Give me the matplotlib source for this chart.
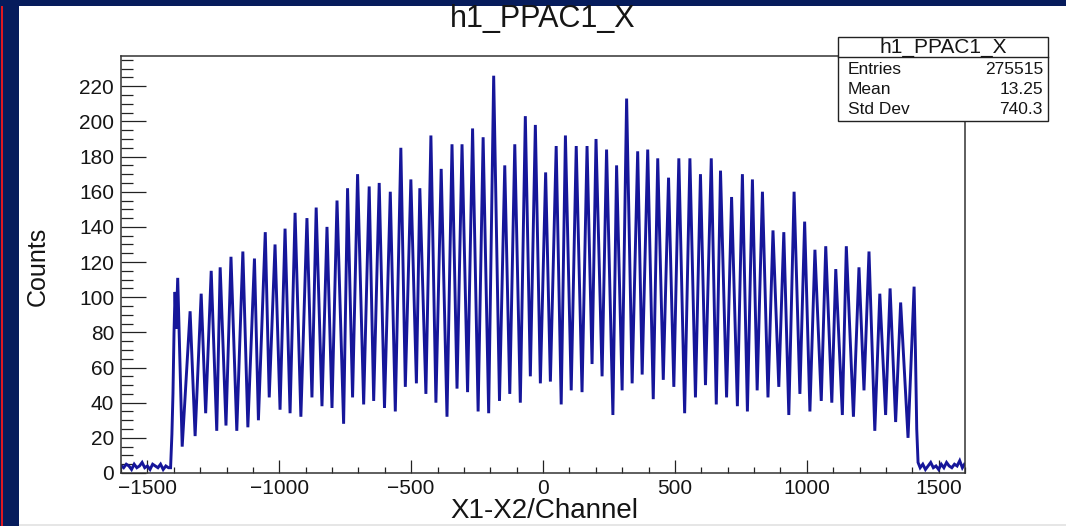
import numpy as np
import matplotlib
matplotlib.use("Agg")
import matplotlib.pyplot as plt
from matplotlib.patches import Rectangle
from matplotlib.ticker import MultipleLocator, FuncFormatter
from matplotlib.lines import Line2D

# ---- histogram h1_PPAC1_X : X1-X2 (channel) ----
# flat background outside the detector window
base_left_x = [-1598, -1590, -1580, -1570, -1560, -1550, -1540, -1530, -1520, -1510,
               -1500, -1490, -1480, -1470, -1460, -1450, -1440, -1430, -1420, -1412]
base_left_y = [4, 3, 5, 4, 2, 5, 3, 4, 6, 3, 4, 2, 5, 4, 3, 5, 2, 4, 3, 3]

# rising edge at the low end of the window
edge_low_x = [-1407, -1403, -1399, -1395, -1391]
edge_low_y = [22, 45, 80, 103, 82]

# peak tops (one per anode wire)
peak_x = [-1385, -1338, -1296, -1258, -1224, -1183, -1138, -1094, -1053, -1016,
          -978, -940, -895, -860, -819, -781, -741, -703, -659, -621,
          -579, -539, -501, -467, -425, -386, -345, -307, -267, -227,
          -187, -145, -107, -67, -29, 10, 50, 85, 126, 167,
          201, 241, 279, 317, 359, 397, 435, 476, 515, 557,
          597, 638, 673, 715, 756, 794, 832, 872, 913, 952,
          992, 1031, 1072, 1110, 1150, 1198, 1236, 1277, 1316, 1356,
          1407]
peak_y = [111, 92, 102, 115, 117, 123, 126, 122, 137, 130,
          139, 148, 145, 151, 140, 155, 162, 170, 163, 165,
          160, 185, 167, 162, 192, 173, 187, 187, 196, 191,
          226, 175, 187, 203, 198, 171, 186, 192, 186, 186,
          190, 184, 175, 213, 183, 184, 179, 168, 179, 179,
          170, 179, 172, 157, 170, 167, 160, 138, 137, 160,
          143, 127, 129, 116, 129, 117, 126, 102, 105, 97,
          106]

# valleys between neighbouring wires
valley_x = [-1368, -1319, -1279, -1237, -1202, -1161, -1119, -1079, -1038, -997,
            -959, -918, -876, -838, -800, -756, -722, -680, -642, -601,
            -560, -522, -480, -444, -406, -364, -326, -286, -246, -206,
            -165, -126, -86, -48, -10, 28, 69, 107, 148, 186,
            224, 265, 300, 338, 376, 418, 456, 496, 537, 578,
            616, 657, 696, 737, 775, 812, 853, 894, 932, 974,
            1012, 1055, 1095, 1135, 1177, 1217, 1258, 1299, 1337, 1384]
valley_y = [15, 21, 34, 24, 27, 24, 26, 30, 43, 36,
            34, 32, 43, 38, 37, 28, 43, 39, 41, 37,
            35, 49, 51, 45, 40, 32, 48, 46, 35, 34,
            41, 45, 40, 55, 51, 52, 39, 47, 46, 62,
            55, 33, 47, 51, 56, 42, 53, 49, 34, 43,
            50, 39, 43, 38, 35, 47, 43, 49, 33, 45,
            35, 41, 40, 33, 32, 47, 24, 33, 29, 20]

# falling edge at the high end of the window
edge_high_x = [1412, 1417, 1422]
edge_high_y = [70, 25, 6]

base_right_x = [1430, 1440, 1450, 1460, 1470, 1480, 1490, 1500, 1510, 1520,
                1530, 1540, 1550, 1560, 1570, 1580, 1590, 1598]
base_right_y = [3, 5, 2, 4, 6, 3, 4, 2, 5, 3, 6, 4, 3, 5, 4, 7, 3, 5]

stats_name = "h1_PPAC1_X"
stats_rows = [("Entries", "275515"), ("Mean", "13.25"), ("Std Dev", "740.3")]

W, H = 1066, 526
NAVY = "#061c5c"
LINE = "#16169a"
INK = "#151515"

plt.rcParams["font.family"] = ["Liberation Sans", "DejaVu Sans"]

fig = plt.figure(figsize=(W / 100, H / 100), dpi=100)
fig.patch.set_facecolor("white")

# slide frame around the canvas
fig.patches.append(Rectangle((0, 1 - 6 / H), 1, 6 / H, transform=fig.transFigure,
                             facecolor=NAVY, edgecolor="none", zorder=0))
fig.patches.append(Rectangle((0, 0), 19 / W, 1, transform=fig.transFigure,
                             facecolor=NAVY, edgecolor="none", zorder=0))
fig.patches.append(Rectangle((1 / W, 0), 2 / W, 1 - 6 / H, transform=fig.transFigure,
                             facecolor="#e01820", edgecolor="none", zorder=1))
fig.patches.append(Rectangle((19 / W, 0), 1 - 19 / W, 2 / H, transform=fig.transFigure,
                             facecolor="#e6e6e6", edgecolor="none", zorder=0))

ax = fig.add_axes([121 / W, 1 - 473 / H, (965 - 121) / W, (473 - 55.5) / H])

x = np.array(base_left_x + edge_low_x + peak_x + valley_x + edge_high_x + base_right_x, float)
y = np.array(base_left_y + edge_low_y + peak_y + valley_y + edge_high_y + base_right_y, float)
order = np.argsort(x, kind="stable")
ax.plot(x[order], y[order], color=LINE, lw=2.1, solid_joinstyle="miter")

ax.set_xlim(-1600, 1600)
ax.set_ylim(0, 237.5)

ax.xaxis.set_major_locator(MultipleLocator(500))
ax.xaxis.set_minor_locator(MultipleLocator(100))
ax.yaxis.set_major_locator(MultipleLocator(20))
ax.yaxis.set_minor_locator(MultipleLocator(5))

ax.tick_params(axis="both", which="both", direction="in", width=0.9, color="#222222",
               labelsize=15, labelcolor=INK)
ax.tick_params(axis="y", which="major", length=18, pad=5)
ax.tick_params(axis="y", which="minor", length=8.5)
ax.tick_params(axis="x", which="major", length=9.5, pad=4)
ax.tick_params(axis="x", which="minor", length=4.5)
for s in ax.spines.values():
    s.set_linewidth(1.1)
    s.set_color("#333333")
ax.xaxis.set_major_formatter(FuncFormatter(lambda v, p: f"{int(v)}".replace("-", "\u2212")))

fig.text(543 / W, 1 - 19 / H, stats_name, ha="center", va="center", fontsize=22, color=INK)
fig.text(544 / W, 1 - 511 / H, "X1-X2/Channel", ha="center", va="center", fontsize=20,
         color=INK)
fig.text(38 / W, 1 - 266 / H, "Counts", ha="center", va="center", rotation=90,
         fontsize=18, color=INK)

# statistics box
bx0, bx1, by0, by1 = 838, 1048, 36.7, 120.7
fig.patches.append(Rectangle((bx0 / W, 1 - by1 / H), (bx1 - bx0) / W, (by1 - by0) / H,
                             transform=fig.transFigure, facecolor="white",
                             edgecolor="#222222", lw=1.0, zorder=5))
fig.lines.append(Line2D([bx0 / W, bx1 / W], [1 - 57 / H, 1 - 57 / H],
                        transform=fig.transFigure, color="#222222", lw=1.0, zorder=6))
fig.text((bx0 + bx1) / 2 / W, 1 - 47 / H, stats_name, ha="center", va="center",
         fontsize=15, color=INK, zorder=7)
for i, (k, v) in enumerate(stats_rows):
    yy = 1 - (70 + 19.5 * i) / H
    fig.text(848 / W, yy, k, ha="left", va="center", fontsize=12.5, color=INK, zorder=7)
    fig.text(1043 / W, yy, v, ha="right", va="center", fontsize=12.5, color=INK, zorder=7)

fig.savefig("out.png", dpi=100)
